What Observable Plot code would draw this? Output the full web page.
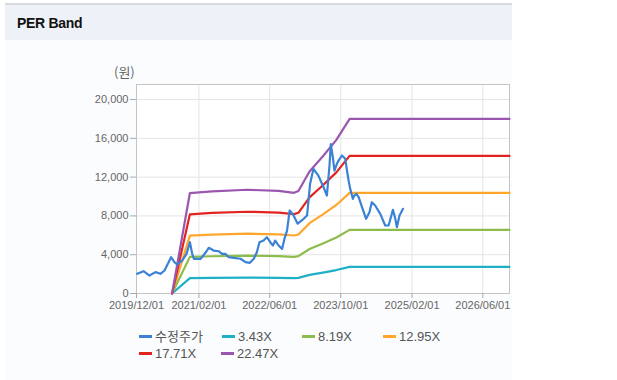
<!DOCTYPE html>
<html><head><meta charset="utf-8">
<script src="https://cdn.jsdelivr.net/npm/d3@7"></script>
<script src="https://cdn.jsdelivr.net/npm/@observablehq/plot@0.6"></script>
<style>
body{margin:0;width:617px;height:380px;background:#fff;font-family:Arial,"Liberation Sans",sans-serif;position:relative;overflow:hidden}
#topline{position:absolute;left:5px;top:3px;width:507px;height:2px;background:#d6d8db}
#header{position:absolute;left:5px;top:5px;width:507px;height:35px;background:#eef2f8}
#title{position:absolute;left:17px;top:15px;font-weight:bold;font-size:14px;color:#111;letter-spacing:-0.3px}
#panel{position:absolute;left:5px;top:40px;width:507px;height:340px;background:#fbfcfd}
#chart{position:absolute;left:0;top:0}
#unit{position:absolute;left:114px;top:64px;font-size:13px;color:#666;font-family:"Noto Sans CJK KR",sans-serif;line-height:16px}
.leg{position:absolute;font-size:13px;color:#555;line-height:16px;white-space:nowrap;font-family:Arial,"Liberation Sans","Noto Sans CJK KR",sans-serif}
.leg i{display:inline-block;width:13px;height:3px;vertical-align:middle;margin-right:3px;margin-top:-2px}
</style></head>
<body>
<div id="topline"></div>
<div id="header"></div>
<div id="title">PER Band</div>
<div id="panel"></div>
<div id="chart"></div>
<div id="unit">(원)</div>
<div id="legend"></div>
<script>
// ---- data ----
const priceDates = ["2019-12-06","2020-01-18","2020-02-28","2020-04-09","2020-05-13","2020-06-10","2020-07-25","2020-08-17","2020-09-05","2020-10-09","2020-11-08","2020-12-01","2020-12-17","2020-12-28","2021-02-13","2021-03-24","2021-04-09","2021-05-13","2021-06-16","2021-07-09","2021-08-01","2021-08-24","2021-09-28","2021-11-13","2021-12-17","2022-01-16","2022-02-12","2022-03-05","2022-03-23","2022-04-20","2022-05-13","2022-06-05","2022-06-23","2022-07-09","2022-08-01","2022-08-25","2022-09-10","2022-09-28","2022-10-16","2022-11-08","2022-12-10","2023-01-20","2023-02-12","2023-03-05","2023-03-28","2023-05-01","2023-06-05","2023-06-28","2023-07-16","2023-07-25","2023-08-08","2023-08-19","2023-09-05","2023-09-16","2023-10-09","2023-11-01","2023-11-13","2023-11-24","2023-12-05","2023-12-23","2024-01-02","2024-01-16","2024-02-01","2024-02-24","2024-03-23","2024-04-15","2024-05-01","2024-05-24","2024-06-28","2024-08-01","2024-08-24","2024-09-23","2024-10-09","2024-10-20","2024-11-07","2024-12-01"];
const priceValues = [2030,2300,1850,2200,2030,2370,3740,3230,2990,3400,4090,5290,4090,3580,3580,4330,4710,4430,4360,4090,4090,3740,3680,3580,3230,3160,3580,4260,5290,5460,5800,5290,4950,5460,4950,4600,5630,6490,8560,8140,7200,7700,8040,11310,12850,12160,10960,10100,13200,15400,14050,12680,13370,13710,14230,13890,12680,11650,10790,9760,10100,10280,9930,8900,7700,8380,9410,9070,8210,7010,7010,8630,7700,6840,8040,8730];
const epsDates = ["2020-08-01","2020-12-01","2021-05-01","2022-01-01","2022-08-01","2022-11-15","2022-12-15","2023-03-01","2023-06-01","2023-09-01","2023-12-01","2026-12-01"];
const epsValues = [0,461,469,476,471,462,470,560,630,705,801,801];
const multiples = [3.43, 8.19, 12.95, 17.71, 22.47];
const bandLabels = ["3.43X","8.19X","12.95X","17.71X","22.47X"];
const bandColors = ["#1fb0c6","#8cbc4c","#ffa62b","#e3231f","#9b57b0"];
const priceLabel = "수정주가";
const priceColor = "#3b82d6";
const yTicks = [0,4000,8000,12000,16000,20000];
const xTicks = ["2019-12-01","2021-02-01","2022-06-01","2023-10-01","2025-02-01","2026-06-01"];

// ---- build ----
const parse = d3.utcParse("%Y-%m-%d");
const price = priceDates.map((d,i)=>({date:parse(d), value:priceValues[i]}));
const bands = [];
multiples.forEach((m,j)=>epsDates.forEach((d,i)=>bands.push({date:parse(d), value:epsValues[i]*m, series:bandLabels[j]})));
const xt = xTicks.map(parse);

const chart = Plot.plot({
  width:617, height:320,
  marginLeft:136, marginRight:108, marginTop:84, marginBottom:27,
  style:{background:"transparent", fontFamily:"Arial, 'Liberation Sans', sans-serif", fontSize:"11px", color:"#666"},
  x:{type:"utc", domain:[parse("2019-12-01"), parse("2026-12-01")]},
  y:{domain:[0,21550]},
  color:{domain:bandLabels, range:bandColors},
  marks:[
    Plot.frame({fill:"#fff", stroke:null}),
    Plot.gridY(yTicks,{stroke:"#e4e4e4", strokeOpacity:1}),
    Plot.gridX(xt,{stroke:"#e4e4e4", strokeOpacity:1}),
    Plot.frame({stroke:"#c4c4c4"}),
    Plot.line(bands,{x:"date", y:"value", z:"series", stroke:"series", strokeWidth:2.2}),
    Plot.line(price,{x:"date", y:"value", stroke:priceColor, strokeWidth:2.2}),
    Plot.axisY(yTicks,{tickSize:6, tickPadding:2, tickFormat:d3.format(","), label:null, stroke:"#aaa", fill:"#666"}),
    Plot.axisX(xt,{tickSize:5, tickPadding:3, tickFormat:d3.utcFormat("%Y/%m/%d"), label:null, stroke:"#aaa", fill:"#666"})
  ]
});
document.getElementById("chart").appendChild(chart);

// ---- legend ----
const legItems = [
  {label:priceLabel, color:priceColor, x:139, y:329},
  {label:bandLabels[0], color:bandColors[0], x:222, y:329},
  {label:bandLabels[1], color:bandColors[1], x:302, y:329},
  {label:bandLabels[2], color:bandColors[2], x:383, y:329},
  {label:bandLabels[3], color:bandColors[3], x:139, y:346},
  {label:bandLabels[4], color:bandColors[4], x:221, y:346}
];
const leg = document.getElementById("legend");
legItems.forEach(it=>{
  const d = document.createElement("div");
  d.className = "leg";
  d.style.left = it.x+"px"; d.style.top = it.y+"px";
  d.innerHTML = `<i style="background:${it.color}"></i>${it.label}`;
  leg.appendChild(d);
});
</script>
</body></html>
